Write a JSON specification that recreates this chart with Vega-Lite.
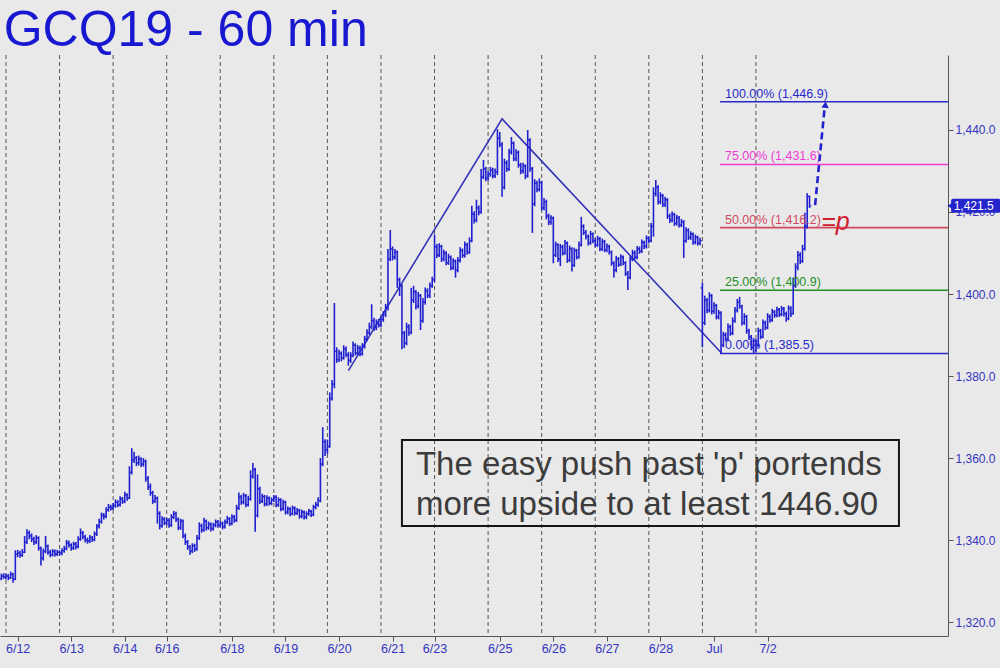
{
"$schema": "https://vega.github.io/schema/vega-lite/v6.json",
"width": 948, "height": 581,
"autosize": {"type": "none"},
"padding": {"left": 0, "top": 55, "right": 52, "bottom": 32},
"background": "#e9e9e9",
"config": {"view": {"stroke": null}, "font": "Liberation Sans"},
"datasets": {
"grid": [{"g":0},{"g":23},{"g":46},{"g":69},{"g":92},{"g":115},{"g":138},{"g":161},{"g":184},{"g":207},{"g":230},{"g":253},{"g":276},{"g":299},{"g":322}],
"zig": [{"zx":147,"zy":1381.3},{"zx":213,"zy":1442.7},{"zx":307.4,"zy":1385.5}],
"fib": [{"lvl":"100.00% (1,446.9)","p":1446.9},{"lvl":"75.00% (1,431.6)","p":1431.6},{"lvl":"50.00% (1,416.2)","p":1416.2},{"lvl":"25.00% (1,400.9)","p":1400.9},{"lvl":"0.00% (1,385.5)","p":1385.5}],
"arrow": [{"ax":347.4,"ay":1421.7},{"ax":351.5,"ay":1445.5}],
"last": [{"price":1421.5,"label":"1,421.5"}],
"bars": [
{"t":-2,"o":1330.6,"h":1331.8,"l":1330.2,"c":1331.2},
{"t":-1,"o":1331.2,"h":1331.9,"l":1330.5,"c":1331.0},
{"t":0,"o":1331.0,"h":1331.8,"l":1330.4,"c":1331.2},
{"t":1,"o":1331.2,"h":1331.7,"l":1330.2,"c":1330.8},
{"t":2,"o":1330.8,"h":1332.3,"l":1330.5,"c":1331.6},
{"t":3,"o":1331.6,"h":1332.0,"l":1329.6,"c":1330.4},
{"t":4,"o":1330.4,"h":1337.5,"l":1330.2,"c":1336.5},
{"t":5,"o":1336.5,"h":1337.6,"l":1335.8,"c":1336.8},
{"t":6,"o":1336.8,"h":1337.4,"l":1335.7,"c":1336.3},
{"t":7,"o":1336.3,"h":1337.8,"l":1335.9,"c":1337.0},
{"t":8,"o":1337.0,"h":1341.0,"l":1336.8,"c":1339.5},
{"t":9,"o":1339.5,"h":1342.6,"l":1339.0,"c":1341.8},
{"t":10,"o":1341.8,"h":1342.3,"l":1340.2,"c":1341.0},
{"t":11,"o":1341.0,"h":1341.6,"l":1339.5,"c":1340.2},
{"t":12,"o":1340.2,"h":1340.8,"l":1338.8,"c":1339.5},
{"t":13,"o":1339.5,"h":1341.2,"l":1339.0,"c":1340.5},
{"t":14,"o":1340.5,"h":1340.9,"l":1337.4,"c":1338.0},
{"t":15,"o":1338.0,"h":1338.4,"l":1333.8,"c":1335.5},
{"t":16,"o":1335.5,"h":1337.9,"l":1335.0,"c":1337.2},
{"t":17,"o":1337.2,"h":1341.0,"l":1336.8,"c":1338.5},
{"t":18,"o":1338.5,"h":1338.9,"l":1336.4,"c":1337.0},
{"t":19,"o":1337.0,"h":1337.6,"l":1335.8,"c":1336.4},
{"t":20,"o":1336.4,"h":1337.8,"l":1336.0,"c":1337.2},
{"t":21,"o":1337.2,"h":1337.7,"l":1336.0,"c":1336.6},
{"t":22,"o":1336.6,"h":1337.6,"l":1336.1,"c":1337.0},
{"t":23,"o":1337.0,"h":1337.5,"l":1336.2,"c":1336.8},
{"t":24,"o":1336.8,"h":1338.0,"l":1336.3,"c":1337.4},
{"t":25,"o":1337.4,"h":1338.6,"l":1336.9,"c":1337.9},
{"t":26,"o":1337.9,"h":1340.0,"l":1337.5,"c":1339.3},
{"t":27,"o":1339.3,"h":1339.9,"l":1338.2,"c":1338.8},
{"t":28,"o":1338.8,"h":1339.2,"l":1337.4,"c":1338.0},
{"t":29,"o":1338.0,"h":1339.6,"l":1337.6,"c":1339.0},
{"t":30,"o":1339.0,"h":1339.5,"l":1337.7,"c":1338.4},
{"t":31,"o":1338.4,"h":1340.9,"l":1338.0,"c":1340.2},
{"t":32,"o":1340.2,"h":1342.8,"l":1339.8,"c":1341.8},
{"t":33,"o":1341.8,"h":1342.2,"l":1340.2,"c":1340.8},
{"t":34,"o":1340.8,"h":1341.3,"l":1339.4,"c":1340.0},
{"t":35,"o":1340.0,"h":1340.6,"l":1339.1,"c":1339.8},
{"t":36,"o":1339.8,"h":1341.2,"l":1339.3,"c":1340.6},
{"t":37,"o":1340.6,"h":1341.0,"l":1339.5,"c":1340.1},
{"t":38,"o":1340.1,"h":1342.1,"l":1339.7,"c":1341.5},
{"t":39,"o":1341.5,"h":1343.9,"l":1341.0,"c":1343.3},
{"t":40,"o":1343.3,"h":1345.2,"l":1342.8,"c":1344.5},
{"t":41,"o":1344.5,"h":1346.7,"l":1344.0,"c":1346.0},
{"t":42,"o":1346.0,"h":1346.6,"l":1345.0,"c":1345.8},
{"t":43,"o":1345.8,"h":1348.0,"l":1345.3,"c":1347.4},
{"t":44,"o":1347.4,"h":1348.8,"l":1346.9,"c":1348.0},
{"t":45,"o":1348.0,"h":1348.6,"l":1347.2,"c":1347.8},
{"t":46,"o":1347.8,"h":1349.0,"l":1347.3,"c":1348.4},
{"t":47,"o":1348.4,"h":1349.9,"l":1347.9,"c":1349.2},
{"t":48,"o":1349.2,"h":1349.7,"l":1348.0,"c":1348.6},
{"t":49,"o":1348.6,"h":1350.7,"l":1348.2,"c":1350.0},
{"t":50,"o":1350.0,"h":1350.5,"l":1348.8,"c":1349.4},
{"t":51,"o":1349.4,"h":1351.8,"l":1349.0,"c":1351.0},
{"t":52,"o":1351.0,"h":1351.4,"l":1349.6,"c":1350.2},
{"t":53,"o":1350.2,"h":1358.0,"l":1350.0,"c":1356.5},
{"t":54,"o":1356.5,"h":1362.4,"l":1356.0,"c":1359.5},
{"t":55,"o":1359.5,"h":1361.5,"l":1358.8,"c":1360.0},
{"t":56,"o":1360.0,"h":1360.5,"l":1358.0,"c":1358.8},
{"t":57,"o":1358.8,"h":1360.6,"l":1358.2,"c":1359.8},
{"t":58,"o":1359.8,"h":1360.2,"l":1357.8,"c":1358.5},
{"t":59,"o":1358.5,"h":1360.0,"l":1357.9,"c":1359.2},
{"t":60,"o":1359.2,"h":1359.6,"l":1354.2,"c":1355.0},
{"t":61,"o":1355.0,"h":1355.6,"l":1352.2,"c":1353.0},
{"t":62,"o":1353.0,"h":1353.8,"l":1350.8,"c":1351.5},
{"t":63,"o":1351.5,"h":1352.0,"l":1348.8,"c":1349.5},
{"t":64,"o":1349.5,"h":1351.0,"l":1349.0,"c":1350.2},
{"t":65,"o":1350.2,"h":1350.6,"l":1344.0,"c":1346.5},
{"t":66,"o":1346.5,"h":1347.0,"l":1342.6,"c":1343.5},
{"t":67,"o":1343.5,"h":1345.8,"l":1343.0,"c":1345.0},
{"t":68,"o":1345.0,"h":1345.6,"l":1343.6,"c":1344.2},
{"t":69,"o":1344.2,"h":1345.4,"l":1343.6,"c":1344.8},
{"t":70,"o":1344.8,"h":1345.3,"l":1343.0,"c":1343.6},
{"t":71,"o":1343.6,"h":1346.3,"l":1343.2,"c":1345.6},
{"t":72,"o":1345.6,"h":1347.1,"l":1345.1,"c":1346.4},
{"t":73,"o":1346.4,"h":1346.9,"l":1344.4,"c":1345.0},
{"t":74,"o":1345.0,"h":1345.5,"l":1342.4,"c":1343.0},
{"t":75,"o":1343.0,"h":1345.2,"l":1342.5,"c":1344.6},
{"t":76,"o":1344.6,"h":1345.0,"l":1340.4,"c":1341.0},
{"t":77,"o":1341.0,"h":1341.6,"l":1338.8,"c":1339.5},
{"t":78,"o":1339.5,"h":1340.0,"l":1337.6,"c":1338.3},
{"t":79,"o":1338.3,"h":1338.8,"l":1336.4,"c":1337.3},
{"t":80,"o":1337.3,"h":1339.2,"l":1336.8,"c":1338.6},
{"t":81,"o":1338.6,"h":1339.1,"l":1337.1,"c":1337.8},
{"t":82,"o":1337.8,"h":1341.2,"l":1337.4,"c":1340.5},
{"t":83,"o":1340.5,"h":1344.3,"l":1340.0,"c":1343.5},
{"t":84,"o":1343.5,"h":1344.0,"l":1341.8,"c":1342.4},
{"t":85,"o":1342.4,"h":1345.4,"l":1342.0,"c":1344.6},
{"t":86,"o":1344.6,"h":1345.0,"l":1342.3,"c":1343.0},
{"t":87,"o":1343.0,"h":1344.5,"l":1342.5,"c":1343.8},
{"t":88,"o":1343.8,"h":1344.3,"l":1342.1,"c":1342.8},
{"t":89,"o":1342.8,"h":1344.2,"l":1342.3,"c":1343.6},
{"t":90,"o":1343.6,"h":1345.0,"l":1343.1,"c":1344.4},
{"t":91,"o":1344.4,"h":1344.9,"l":1343.0,"c":1343.6},
{"t":92,"o":1343.6,"h":1344.7,"l":1343.1,"c":1344.0},
{"t":93,"o":1344.0,"h":1344.5,"l":1342.6,"c":1343.2},
{"t":94,"o":1343.2,"h":1345.0,"l":1342.8,"c":1344.4},
{"t":95,"o":1344.4,"h":1345.9,"l":1343.9,"c":1345.2},
{"t":96,"o":1345.2,"h":1345.6,"l":1343.4,"c":1344.0},
{"t":97,"o":1344.0,"h":1346.3,"l":1343.6,"c":1345.6},
{"t":98,"o":1345.6,"h":1346.1,"l":1344.2,"c":1344.8},
{"t":99,"o":1344.8,"h":1348.6,"l":1344.4,"c":1347.8},
{"t":100,"o":1347.8,"h":1351.6,"l":1347.3,"c":1350.5},
{"t":101,"o":1350.5,"h":1351.0,"l":1348.6,"c":1349.2},
{"t":102,"o":1349.2,"h":1351.5,"l":1348.7,"c":1350.8},
{"t":103,"o":1350.8,"h":1351.2,"l":1348.0,"c":1348.6},
{"t":104,"o":1348.6,"h":1350.8,"l":1348.2,"c":1350.0},
{"t":105,"o":1350.0,"h":1357.0,"l":1349.6,"c":1355.5},
{"t":106,"o":1355.5,"h":1358.8,"l":1355.0,"c":1357.2},
{"t":107,"o":1357.2,"h":1357.6,"l":1342.0,"c":1346.0},
{"t":108,"o":1346.0,"h":1356.0,"l":1345.5,"c":1352.5},
{"t":109,"o":1352.5,"h":1353.0,"l":1348.8,"c":1349.5},
{"t":110,"o":1349.5,"h":1351.3,"l":1349.0,"c":1350.6},
{"t":111,"o":1350.6,"h":1351.0,"l":1348.2,"c":1348.8},
{"t":112,"o":1348.8,"h":1350.9,"l":1348.3,"c":1350.2},
{"t":113,"o":1350.2,"h":1350.6,"l":1348.4,"c":1349.0},
{"t":114,"o":1349.0,"h":1350.4,"l":1348.5,"c":1349.8},
{"t":115,"o":1349.8,"h":1351.0,"l":1349.3,"c":1350.4},
{"t":116,"o":1350.4,"h":1350.9,"l":1348.0,"c":1348.6},
{"t":117,"o":1348.6,"h":1350.4,"l":1348.1,"c":1349.8},
{"t":118,"o":1349.8,"h":1350.2,"l":1347.0,"c":1347.6},
{"t":119,"o":1347.6,"h":1349.8,"l":1347.2,"c":1349.2},
{"t":120,"o":1349.2,"h":1349.6,"l":1346.2,"c":1346.8},
{"t":121,"o":1346.8,"h":1348.2,"l":1346.3,"c":1347.6},
{"t":122,"o":1347.6,"h":1348.0,"l":1345.8,"c":1346.4},
{"t":123,"o":1346.4,"h":1348.4,"l":1346.0,"c":1347.8},
{"t":124,"o":1347.8,"h":1348.2,"l":1346.0,"c":1346.6},
{"t":125,"o":1346.6,"h":1347.8,"l":1346.1,"c":1347.2},
{"t":126,"o":1347.2,"h":1347.6,"l":1345.2,"c":1345.8},
{"t":127,"o":1345.8,"h":1347.4,"l":1345.3,"c":1346.8},
{"t":128,"o":1346.8,"h":1347.2,"l":1345.0,"c":1345.6},
{"t":129,"o":1345.6,"h":1347.0,"l":1345.1,"c":1346.4},
{"t":130,"o":1346.4,"h":1347.6,"l":1345.9,"c":1347.0},
{"t":131,"o":1347.0,"h":1347.4,"l":1345.6,"c":1346.2},
{"t":132,"o":1346.2,"h":1348.6,"l":1345.8,"c":1348.0},
{"t":133,"o":1348.0,"h":1349.3,"l":1347.5,"c":1348.6},
{"t":134,"o":1348.6,"h":1350.4,"l":1348.1,"c":1349.6},
{"t":135,"o":1349.6,"h":1360.0,"l":1349.2,"c":1358.5},
{"t":136,"o":1358.5,"h":1367.5,"l":1358.0,"c":1364.0},
{"t":137,"o":1364.0,"h":1364.6,"l":1360.5,"c":1362.0},
{"t":138,"o":1362.0,"h":1364.5,"l":1361.0,"c":1362.8},
{"t":139,"o":1362.8,"h":1376.0,"l":1362.5,"c":1374.5},
{"t":140,"o":1374.5,"h":1379.0,"l":1374.0,"c":1378.0},
{"t":141,"o":1378.0,"h":1397.8,"l":1377.0,"c":1386.0},
{"t":142,"o":1386.0,"h":1387.0,"l":1383.2,"c":1384.0},
{"t":143,"o":1384.0,"h":1386.4,"l":1383.4,"c":1385.5},
{"t":144,"o":1385.5,"h":1386.0,"l":1383.6,"c":1384.4},
{"t":145,"o":1384.4,"h":1387.5,"l":1384.0,"c":1386.6},
{"t":146,"o":1386.6,"h":1387.2,"l":1384.6,"c":1385.2},
{"t":147,"o":1385.2,"h":1385.8,"l":1382.5,"c":1383.8},
{"t":148,"o":1383.8,"h":1385.8,"l":1383.2,"c":1385.0},
{"t":149,"o":1385.0,"h":1388.4,"l":1384.6,"c":1387.5},
{"t":150,"o":1387.5,"h":1388.0,"l":1385.0,"c":1385.6},
{"t":151,"o":1385.6,"h":1387.6,"l":1385.1,"c":1386.8},
{"t":152,"o":1386.8,"h":1387.4,"l":1384.8,"c":1385.4},
{"t":153,"o":1385.4,"h":1388.0,"l":1385.0,"c":1387.2},
{"t":154,"o":1387.2,"h":1389.8,"l":1386.7,"c":1389.0},
{"t":155,"o":1389.0,"h":1391.4,"l":1388.5,"c":1390.6},
{"t":156,"o":1390.6,"h":1393.0,"l":1390.0,"c":1392.0},
{"t":157,"o":1392.0,"h":1397.5,"l":1391.4,"c":1393.5},
{"t":158,"o":1393.5,"h":1394.2,"l":1391.0,"c":1391.8},
{"t":159,"o":1391.8,"h":1393.8,"l":1391.2,"c":1393.0},
{"t":160,"o":1393.0,"h":1393.9,"l":1391.8,"c":1392.4},
{"t":161,"o":1392.4,"h":1394.6,"l":1391.9,"c":1393.8},
{"t":162,"o":1393.8,"h":1395.8,"l":1393.2,"c":1395.0},
{"t":163,"o":1395.0,"h":1397.6,"l":1394.4,"c":1396.8},
{"t":164,"o":1396.8,"h":1411.0,"l":1396.0,"c":1408.5},
{"t":165,"o":1408.5,"h":1415.6,"l":1408.0,"c":1411.0},
{"t":166,"o":1411.0,"h":1411.6,"l":1408.2,"c":1409.0},
{"t":167,"o":1409.0,"h":1411.0,"l":1408.4,"c":1410.2},
{"t":168,"o":1410.2,"h":1410.6,"l":1401.5,"c":1403.5},
{"t":169,"o":1403.5,"h":1404.0,"l":1399.5,"c":1402.0},
{"t":170,"o":1402.0,"h":1402.4,"l":1386.5,"c":1390.5},
{"t":171,"o":1390.5,"h":1391.0,"l":1386.8,"c":1388.0},
{"t":172,"o":1388.0,"h":1393.0,"l":1387.5,"c":1392.0},
{"t":173,"o":1392.0,"h":1392.6,"l":1389.8,"c":1390.6},
{"t":174,"o":1390.6,"h":1401.5,"l":1390.2,"c":1398.5},
{"t":175,"o":1398.5,"h":1402.0,"l":1397.8,"c":1400.5},
{"t":176,"o":1400.5,"h":1401.0,"l":1396.2,"c":1397.0},
{"t":177,"o":1397.0,"h":1400.5,"l":1396.5,"c":1399.6},
{"t":178,"o":1399.6,"h":1400.0,"l":1391.2,"c":1393.5},
{"t":179,"o":1393.5,"h":1399.0,"l":1393.0,"c":1398.0},
{"t":180,"o":1398.0,"h":1401.6,"l":1397.4,"c":1400.8},
{"t":181,"o":1400.8,"h":1401.4,"l":1399.0,"c":1399.6},
{"t":182,"o":1399.6,"h":1402.8,"l":1399.0,"c":1402.0},
{"t":183,"o":1402.0,"h":1404.2,"l":1401.5,"c":1403.5},
{"t":184,"o":1403.5,"h":1414.5,"l":1403.0,"c":1411.5},
{"t":185,"o":1411.5,"h":1412.2,"l":1408.8,"c":1409.5},
{"t":186,"o":1409.5,"h":1412.4,"l":1409.0,"c":1411.6},
{"t":187,"o":1411.6,"h":1412.0,"l":1407.8,"c":1408.5},
{"t":188,"o":1408.5,"h":1410.8,"l":1408.0,"c":1410.0},
{"t":189,"o":1410.0,"h":1410.4,"l":1407.0,"c":1407.6},
{"t":190,"o":1407.6,"h":1409.8,"l":1407.1,"c":1409.0},
{"t":191,"o":1409.0,"h":1409.4,"l":1405.8,"c":1406.4},
{"t":192,"o":1406.4,"h":1408.7,"l":1405.9,"c":1408.0},
{"t":193,"o":1408.0,"h":1408.4,"l":1404.0,"c":1405.8},
{"t":194,"o":1405.8,"h":1409.0,"l":1405.3,"c":1408.2},
{"t":195,"o":1408.2,"h":1411.4,"l":1407.7,"c":1410.6},
{"t":196,"o":1410.6,"h":1411.1,"l":1408.8,"c":1409.4},
{"t":197,"o":1409.4,"h":1412.8,"l":1408.9,"c":1412.0},
{"t":198,"o":1412.0,"h":1412.5,"l":1409.6,"c":1410.2},
{"t":199,"o":1410.2,"h":1413.8,"l":1409.8,"c":1413.0},
{"t":200,"o":1413.0,"h":1421.5,"l":1412.6,"c":1419.5},
{"t":201,"o":1419.5,"h":1420.2,"l":1417.2,"c":1418.0},
{"t":202,"o":1418.0,"h":1423.0,"l":1417.5,"c":1421.0},
{"t":203,"o":1421.0,"h":1421.6,"l":1419.2,"c":1420.0},
{"t":204,"o":1420.0,"h":1430.5,"l":1419.6,"c":1428.5},
{"t":205,"o":1428.5,"h":1432.7,"l":1428.0,"c":1430.5},
{"t":206,"o":1430.5,"h":1431.0,"l":1427.5,"c":1428.2},
{"t":207,"o":1428.2,"h":1430.0,"l":1427.6,"c":1429.2},
{"t":208,"o":1429.2,"h":1431.0,"l":1428.6,"c":1430.2},
{"t":209,"o":1430.2,"h":1430.8,"l":1428.2,"c":1428.8},
{"t":210,"o":1428.8,"h":1430.6,"l":1428.3,"c":1429.8},
{"t":211,"o":1429.8,"h":1440.2,"l":1429.0,"c":1438.0},
{"t":212,"o":1438.0,"h":1439.5,"l":1435.8,"c":1436.5},
{"t":213,"o":1436.5,"h":1437.0,"l":1423.7,"c":1426.0},
{"t":214,"o":1426.0,"h":1433.0,"l":1425.5,"c":1432.0},
{"t":215,"o":1432.0,"h":1432.6,"l":1429.8,"c":1430.5},
{"t":216,"o":1430.5,"h":1435.4,"l":1430.0,"c":1434.6},
{"t":217,"o":1434.6,"h":1438.3,"l":1434.0,"c":1436.8},
{"t":218,"o":1436.8,"h":1437.2,"l":1432.4,"c":1433.0},
{"t":219,"o":1433.0,"h":1435.3,"l":1432.4,"c":1434.5},
{"t":220,"o":1434.5,"h":1435.0,"l":1430.8,"c":1431.5},
{"t":221,"o":1431.5,"h":1432.0,"l":1429.2,"c":1430.0},
{"t":222,"o":1430.0,"h":1432.0,"l":1429.4,"c":1431.2},
{"t":223,"o":1431.2,"h":1431.6,"l":1428.0,"c":1428.8},
{"t":224,"o":1428.8,"h":1440.0,"l":1428.4,"c":1437.5},
{"t":225,"o":1437.5,"h":1438.0,"l":1429.8,"c":1430.5},
{"t":226,"o":1430.5,"h":1431.0,"l":1414.9,"c":1422.0},
{"t":227,"o":1422.0,"h":1428.0,"l":1421.4,"c":1427.0},
{"t":228,"o":1427.0,"h":1427.6,"l":1424.8,"c":1425.5},
{"t":229,"o":1425.5,"h":1428.2,"l":1425.0,"c":1427.2},
{"t":230,"o":1427.2,"h":1427.6,"l":1420.4,"c":1421.0},
{"t":231,"o":1421.0,"h":1423.4,"l":1420.4,"c":1422.5},
{"t":232,"o":1422.5,"h":1423.0,"l":1418.2,"c":1419.0},
{"t":233,"o":1419.0,"h":1419.6,"l":1416.8,"c":1417.5},
{"t":234,"o":1417.5,"h":1419.2,"l":1416.9,"c":1418.5},
{"t":235,"o":1418.5,"h":1418.9,"l":1407.5,"c":1409.5},
{"t":236,"o":1409.5,"h":1412.8,"l":1409.0,"c":1412.0},
{"t":237,"o":1412.0,"h":1412.4,"l":1407.8,"c":1408.5},
{"t":238,"o":1408.5,"h":1412.2,"l":1406.8,"c":1411.5},
{"t":239,"o":1411.5,"h":1412.0,"l":1409.4,"c":1410.0},
{"t":240,"o":1410.0,"h":1413.2,"l":1409.6,"c":1412.4},
{"t":241,"o":1412.4,"h":1412.8,"l":1407.6,"c":1408.2},
{"t":242,"o":1408.2,"h":1411.8,"l":1407.8,"c":1411.0},
{"t":243,"o":1411.0,"h":1411.4,"l":1405.5,"c":1407.0},
{"t":244,"o":1407.0,"h":1411.3,"l":1406.6,"c":1410.6},
{"t":245,"o":1410.6,"h":1411.0,"l":1408.4,"c":1409.0},
{"t":246,"o":1409.0,"h":1412.8,"l":1408.6,"c":1412.0},
{"t":247,"o":1412.0,"h":1418.8,"l":1411.6,"c":1416.5},
{"t":248,"o":1416.5,"h":1417.0,"l":1414.4,"c":1415.0},
{"t":249,"o":1415.0,"h":1415.6,"l":1413.3,"c":1414.0},
{"t":250,"o":1414.0,"h":1414.5,"l":1411.8,"c":1412.5},
{"t":251,"o":1412.5,"h":1415.4,"l":1412.0,"c":1414.6},
{"t":252,"o":1414.6,"h":1415.0,"l":1412.4,"c":1413.0},
{"t":253,"o":1413.0,"h":1413.6,"l":1411.4,"c":1412.0},
{"t":254,"o":1412.0,"h":1414.2,"l":1411.5,"c":1413.5},
{"t":255,"o":1413.5,"h":1413.9,"l":1410.4,"c":1411.0},
{"t":256,"o":1411.0,"h":1413.5,"l":1410.5,"c":1412.8},
{"t":257,"o":1412.8,"h":1413.2,"l":1410.2,"c":1410.8},
{"t":258,"o":1410.8,"h":1412.3,"l":1410.2,"c":1411.6},
{"t":259,"o":1411.6,"h":1412.0,"l":1409.6,"c":1410.2},
{"t":260,"o":1410.2,"h":1410.6,"l":1406.9,"c":1407.5},
{"t":261,"o":1407.5,"h":1408.0,"l":1404.0,"c":1405.8},
{"t":262,"o":1405.8,"h":1409.3,"l":1405.3,"c":1408.6},
{"t":263,"o":1408.6,"h":1409.0,"l":1406.6,"c":1407.2},
{"t":264,"o":1407.2,"h":1409.7,"l":1406.8,"c":1409.0},
{"t":265,"o":1409.0,"h":1409.4,"l":1407.0,"c":1407.6},
{"t":266,"o":1407.6,"h":1408.0,"l":1404.4,"c":1405.0},
{"t":267,"o":1405.0,"h":1405.6,"l":1401.0,"c":1404.0},
{"t":268,"o":1404.0,"h":1409.2,"l":1403.6,"c":1408.5},
{"t":269,"o":1408.5,"h":1410.8,"l":1408.0,"c":1410.0},
{"t":270,"o":1410.0,"h":1410.6,"l":1408.4,"c":1409.0},
{"t":271,"o":1409.0,"h":1411.7,"l":1408.5,"c":1411.0},
{"t":272,"o":1411.0,"h":1411.6,"l":1409.8,"c":1410.4},
{"t":273,"o":1410.4,"h":1413.3,"l":1410.0,"c":1412.6},
{"t":274,"o":1412.6,"h":1413.0,"l":1411.0,"c":1411.6},
{"t":275,"o":1411.6,"h":1414.3,"l":1411.1,"c":1413.6},
{"t":276,"o":1413.6,"h":1414.1,"l":1412.4,"c":1413.0},
{"t":277,"o":1413.0,"h":1417.3,"l":1412.6,"c":1416.5},
{"t":278,"o":1416.5,"h":1426.0,"l":1414.0,"c":1424.5},
{"t":279,"o":1424.5,"h":1427.8,"l":1423.8,"c":1426.0},
{"t":280,"o":1426.0,"h":1426.5,"l":1421.8,"c":1422.5},
{"t":281,"o":1422.5,"h":1424.8,"l":1421.9,"c":1424.0},
{"t":282,"o":1424.0,"h":1424.4,"l":1421.2,"c":1421.8},
{"t":283,"o":1421.8,"h":1423.7,"l":1421.2,"c":1423.0},
{"t":284,"o":1423.0,"h":1423.4,"l":1418.3,"c":1419.0},
{"t":285,"o":1419.0,"h":1419.6,"l":1417.3,"c":1418.0},
{"t":286,"o":1418.0,"h":1420.1,"l":1417.5,"c":1419.4},
{"t":287,"o":1419.4,"h":1419.8,"l":1416.6,"c":1417.2},
{"t":288,"o":1417.2,"h":1419.3,"l":1416.7,"c":1418.6},
{"t":289,"o":1418.6,"h":1419.0,"l":1416.2,"c":1416.8},
{"t":290,"o":1416.8,"h":1418.3,"l":1416.3,"c":1417.6},
{"t":291,"o":1417.6,"h":1418.0,"l":1408.8,"c":1413.0},
{"t":292,"o":1413.0,"h":1416.3,"l":1412.5,"c":1415.5},
{"t":293,"o":1415.5,"h":1416.0,"l":1413.2,"c":1413.8},
{"t":294,"o":1413.8,"h":1415.3,"l":1413.2,"c":1414.6},
{"t":295,"o":1414.6,"h":1415.0,"l":1412.0,"c":1412.6},
{"t":296,"o":1412.6,"h":1414.5,"l":1412.1,"c":1413.8},
{"t":297,"o":1413.8,"h":1414.2,"l":1411.8,"c":1412.4},
{"t":298,"o":1412.4,"h":1413.7,"l":1411.9,"c":1413.0},
{"t":299,"o":1401.5,"h":1402.7,"l":1387.0,"c":1393.0},
{"t":300,"o":1393.0,"h":1399.6,"l":1392.4,"c":1398.5},
{"t":301,"o":1398.5,"h":1399.0,"l":1395.3,"c":1396.0},
{"t":302,"o":1396.0,"h":1400.4,"l":1395.5,"c":1399.6},
{"t":303,"o":1399.6,"h":1400.0,"l":1395.0,"c":1395.8},
{"t":304,"o":1395.8,"h":1398.0,"l":1395.2,"c":1397.2},
{"t":305,"o":1397.2,"h":1397.6,"l":1393.8,"c":1394.4},
{"t":306,"o":1394.4,"h":1396.1,"l":1393.8,"c":1395.4},
{"t":307,"o":1395.4,"h":1395.8,"l":1385.5,"c":1387.5},
{"t":308,"o":1387.5,"h":1390.8,"l":1387.0,"c":1390.0},
{"t":309,"o":1390.0,"h":1390.6,"l":1388.4,"c":1389.0},
{"t":310,"o":1389.0,"h":1392.8,"l":1388.6,"c":1392.0},
{"t":311,"o":1392.0,"h":1392.5,"l":1389.8,"c":1390.4},
{"t":312,"o":1390.4,"h":1394.3,"l":1390.0,"c":1393.5},
{"t":313,"o":1393.5,"h":1396.8,"l":1393.0,"c":1396.0},
{"t":314,"o":1396.0,"h":1398.8,"l":1395.5,"c":1398.0},
{"t":315,"o":1398.0,"h":1399.3,"l":1396.4,"c":1397.0},
{"t":316,"o":1397.0,"h":1397.4,"l":1392.3,"c":1393.0},
{"t":317,"o":1393.0,"h":1395.3,"l":1392.5,"c":1394.5},
{"t":318,"o":1394.5,"h":1394.9,"l":1390.3,"c":1391.0},
{"t":319,"o":1391.0,"h":1391.5,"l":1388.8,"c":1389.5},
{"t":320,"o":1389.5,"h":1390.0,"l":1386.3,"c":1387.0},
{"t":321,"o":1387.0,"h":1389.3,"l":1385.5,"c":1388.5},
{"t":322,"o":1388.5,"h":1389.0,"l":1385.8,"c":1387.5},
{"t":323,"o":1387.5,"h":1391.8,"l":1387.0,"c":1391.0},
{"t":324,"o":1391.0,"h":1391.5,"l":1389.0,"c":1389.6},
{"t":325,"o":1389.6,"h":1393.8,"l":1389.2,"c":1393.0},
{"t":326,"o":1393.0,"h":1393.5,"l":1391.2,"c":1391.8},
{"t":327,"o":1391.8,"h":1395.3,"l":1391.4,"c":1394.5},
{"t":328,"o":1394.5,"h":1395.0,"l":1393.0,"c":1393.6},
{"t":329,"o":1393.6,"h":1396.4,"l":1393.2,"c":1395.6},
{"t":330,"o":1395.6,"h":1396.1,"l":1394.2,"c":1394.8},
{"t":331,"o":1394.8,"h":1396.9,"l":1394.3,"c":1396.2},
{"t":332,"o":1396.2,"h":1396.6,"l":1394.4,"c":1395.0},
{"t":333,"o":1395.0,"h":1397.1,"l":1394.6,"c":1396.4},
{"t":334,"o":1396.4,"h":1396.8,"l":1394.5,"c":1395.2},
{"t":335,"o":1395.2,"h":1395.7,"l":1393.2,"c":1394.0},
{"t":336,"o":1394.0,"h":1397.2,"l":1393.6,"c":1396.5},
{"t":337,"o":1396.5,"h":1397.0,"l":1394.4,"c":1395.2},
{"t":338,"o":1395.2,"h":1404.0,"l":1395.0,"c":1402.0},
{"t":339,"o":1402.0,"h":1407.5,"l":1401.5,"c":1406.5},
{"t":340,"o":1406.5,"h":1410.5,"l":1405.8,"c":1409.5},
{"t":341,"o":1409.5,"h":1410.2,"l":1407.3,"c":1408.0},
{"t":342,"o":1408.0,"h":1412.0,"l":1407.6,"c":1411.0},
{"t":343,"o":1411.0,"h":1419.8,"l":1410.6,"c":1416.5},
{"t":344,"o":1416.5,"h":1424.6,"l":1416.0,"c":1423.8},
{"t":345,"o":1423.8,"h":1424.0,"l":1421.0,"c":1421.5}
]
},
"layer": [
{"data": {"name": "grid"},
 "mark": {"type": "rule", "color": "#555555", "strokeWidth": 1, "strokeDash": [4, 3]},
 "encoding": {"x": {"field": "g", "type": "quantitative",
   "scale": {"domain": [-2.576, 404.46], "nice": false, "zero": false},
   "axis": {"values": [5,28,51,69,97,120,143,166,184,212,235,258,281,304,327],
     "labelExpr": "['6/12','6/13','6/14','6/16','6/18','6/19','6/20','6/21','6/23','6/25','6/26','6/27','6/28','Jul','7/2'][indexof([5,28,51,69,97,120,143,166,184,212,235,258,281,304,327], datum.value)]",
     "title": null, "grid": false, "domainColor": "#555555", "tickColor": "#555555", "tickSize": 5,
     "labelColor": "#3434c0", "labelFontSize": 12.5, "labelFont": "Liberation Sans", "labelPadding": 1, "labelFlush": false, "labelOverlap": false}}}},
{"data": {"name": "fib"},
 "mark": {"type": "rule", "strokeWidth": 1.6},
 "encoding": {"x": {"datum": 306.6}, "x2": {"datum": 404.46},
   "y": {"field": "p", "type": "quantitative", "scale": {"domain": [1316.59, 1458.29], "nice": false, "zero": false},
     "axis": {"orient": "right", "values": [1320,1340,1360,1380,1400,1420,1440], "format": ",.1f", "title": null, "grid": false,
       "domainColor": "#555555", "tickColor": "#555555", "tickSize": 5, "labelPadding": 2,
       "labelColor": "#3434c0", "labelFontSize": 12, "labelFont": "Liberation Sans"}},
   "color": {"field": "lvl", "type": "nominal", "legend": null,
     "scale": {"domain": ["100.00% (1,446.9)","75.00% (1,431.6)","50.00% (1,416.2)","25.00% (1,400.9)","0.00% (1,385.5)"],
       "range": ["#2a2acc","#ee3cd6","#d04a60","#1f8f1f","#2a2acc"]}}}},
{"data": {"name": "zig"},
 "mark": {"type": "line", "color": "#3434b8", "strokeWidth": 1.6},
 "encoding": {"x": {"field": "zx", "type": "quantitative"}, "y": {"field": "zy", "type": "quantitative"}}},
{"data": {"name": "bars"},
 "mark": {"type": "rule", "color": "#2020d0", "strokeWidth": 1.6},
 "encoding": {"x": {"field": "t", "type": "quantitative"}, "y": {"field": "l", "type": "quantitative"}, "y2": {"field": "h"}}},
{"data": {"name": "bars"},
 "mark": {"type": "tick", "orient": "horizontal", "color": "#2020d0", "size": 2, "thickness": 1.4, "xOffset": -1},
 "encoding": {"x": {"field": "t", "type": "quantitative"}, "y": {"field": "o", "type": "quantitative"}}},
{"data": {"name": "bars"},
 "mark": {"type": "tick", "orient": "horizontal", "color": "#2020d0", "size": 2, "thickness": 1.4, "xOffset": 1},
 "encoding": {"x": {"field": "t", "type": "quantitative"}, "y": {"field": "c", "type": "quantitative"}}},
{"data": {"name": "fib"},
 "mark": {"type": "text", "align": "left", "baseline": "alphabetic", "dy": -4, "fontSize": 12.5, "font": "Liberation Sans"},
 "encoding": {"x": {"datum": 308.7}, "y": {"field": "p", "type": "quantitative"}, "text": {"field": "lvl"},
   "color": {"field": "lvl", "type": "nominal", "legend": null}}},
{"data": {"values": [{"note": "=p", "p": 1416.2}]},
 "mark": {"type": "text", "align": "left", "baseline": "alphabetic", "dy": 2, "fontSize": 25, "fontStyle": "italic", "font": "Liberation Sans", "color": "#d02030"},
 "encoding": {"x": {"datum": 350.0}, "y": {"field": "p", "type": "quantitative"}, "text": {"field": "note"}}},
{"data": {"name": "arrow"},
 "mark": {"type": "line", "color": "#2222cc", "strokeWidth": 2.6, "strokeDash": [7, 4]},
 "encoding": {"x": {"field": "ax", "type": "quantitative"}, "y": {"field": "ay", "type": "quantitative"}}},
{"data": {"values": [{"target": 1446.9}]},
 "mark": {"type": "point", "shape": "triangle-up", "filled": true, "color": "#2222cc", "size": 55, "angle": 5, "opacity": 1, "yOffset": 3},
 "encoding": {"x": {"datum": 351.8}, "y": {"field": "target", "type": "quantitative"}}},
{"data": {"values": [{"note": "box"}]},
 "mark": {"type": "rect", "filled": false, "color": "#151515", "strokeWidth": 2},
 "encoding": {"x": {"datum": 170.0}, "x2": {"datum": 383.4}, "y": {"datum": 1364.4}, "y2": {"datum": 1343.4}}},
{"data": {"values": [{"note": "text"}]},
 "mark": {"type": "text", "text": ["The easy push past 'p' portends", "more upside to at least 1446.90"], "align": "left", "baseline": "alphabetic", "fontSize": 33, "lineHeight": 40, "font": "Liberation Sans", "color": "#3c3c3c"},
 "encoding": {"x": {"datum": 176.0}, "y": {"datum": 1355.85}}},
{"data": {"values": [{"note": "title"}]},
 "mark": {"type": "text", "text": "GCQ19 - 60 min", "align": "left", "baseline": "alphabetic", "fontSize": 50, "font": "Liberation Sans", "color": "#1818d0", "clip": false},
 "encoding": {"x": {"datum": -1.0}, "y": {"datum": 1460.5}}},
{"data": {"name": "last"},
 "mark": {"type": "rect", "color": "#2424cc", "cornerRadius": 2, "clip": false, "height": 14},
 "encoding": {"x": {"datum": 405.8}, "x2": {"datum": 427.0}, "y": {"field": "price", "type": "quantitative"}}},
{"data": {"name": "last"},
 "mark": {"type": "point", "shape": "triangle-left", "filled": true, "color": "#2424cc", "size": 45, "opacity": 1, "clip": false},
 "encoding": {"x": {"datum": 405.4}, "y": {"field": "price", "type": "quantitative"}}},
{"data": {"name": "last"},
 "mark": {"type": "text", "align": "left", "baseline": "middle", "fontSize": 12, "font": "Liberation Sans", "color": "#ffffff", "clip": false},
 "encoding": {"x": {"datum": 406.9}, "y": {"field": "price", "type": "quantitative"}, "text": {"field": "label"}}}
]
}
